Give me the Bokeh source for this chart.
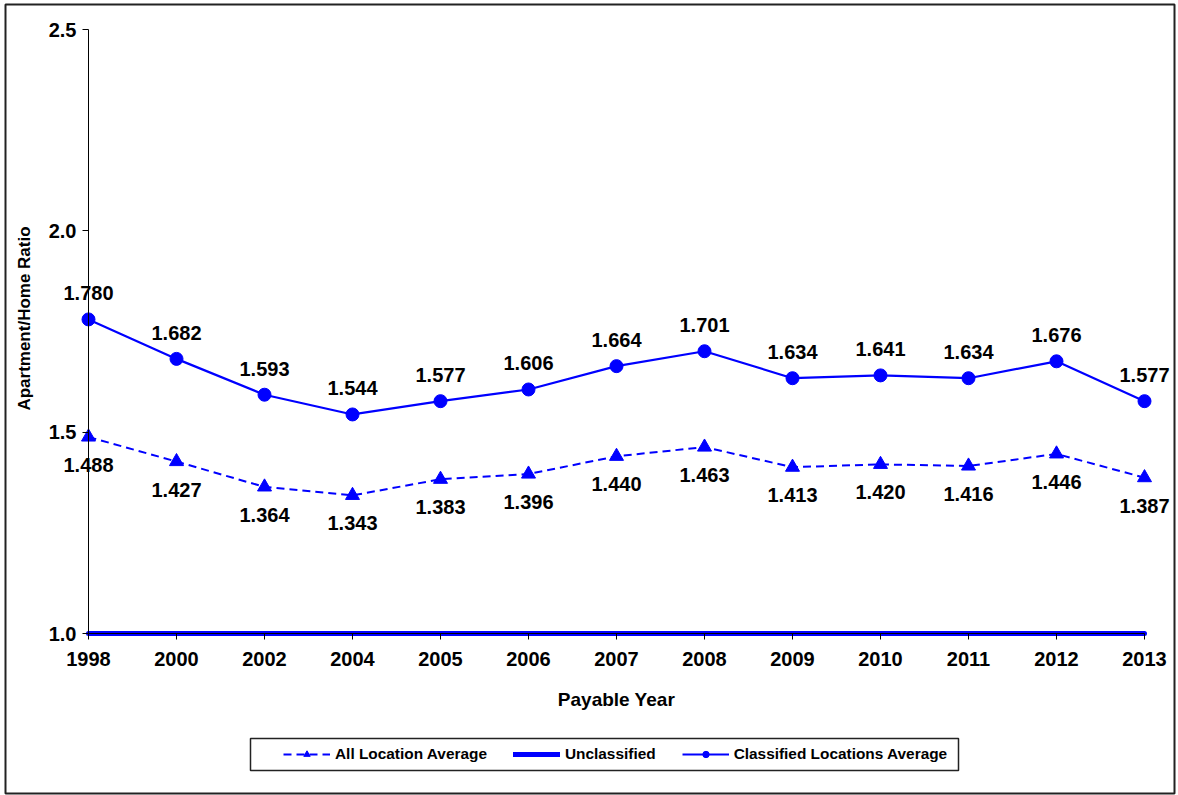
import math
from bokeh.plotting import figure
from bokeh.models import (ColumnDataSource, Legend, LegendItem, FixedTicker, Range1d,
                          LabelSet, Label, BoxAnnotation)
from bokeh.core.properties import value
from bokeh.embed import file_html
from bokeh.resources import INLINE

years = ["1998", "2000", "2002", "2004", "2005", "2006", "2007", "2008", "2009", "2010", "2011", "2012", "2013"]
all_location = [1.488, 1.427, 1.364, 1.343, 1.383, 1.396, 1.440, 1.463, 1.413, 1.420, 1.416, 1.446, 1.387]
unclassified = [1.0] * 13
classified = [1.780, 1.682, 1.593, 1.544, 1.577, 1.606, 1.664, 1.701, 1.634, 1.641, 1.634, 1.676, 1.577]
y_ticks = [1.0, 1.5, 2.0, 2.5]

FONT = "Liberation Sans"
BLUE = "#0000FF"

# ---- layout geometry (page pixels); the frame fills the whole canvas ----
W, H = 1178, 795
X_FIRST_PX, X_LAST_PX = 88, 1144       # first / last category position
Y_LO_PX, Y_HI_PX = 633, 29             # y = 1.0 and y = 2.5

n = len(years)
xs = list(range(n))
ppx = (X_LAST_PX - X_FIRST_PX) / (n - 1)
ppy = (Y_LO_PX - Y_HI_PX) / (y_ticks[-1] - y_ticks[0])


def dx(px):
    return (px - X_FIRST_PX) / ppx


def dy(py):
    return y_ticks[0] + (Y_LO_PX - py) / ppy


src = ColumnDataSource(dict(
    x=xs,
    allv=all_location,
    unc=unclassified,
    cls=classified,
    all_lbl=[f"{v:.3f}" for v in all_location],
    cls_lbl=[f"{v:.3f}" for v in classified],
))

p = figure(width=W, height=H, output_backend="svg", toolbar_location=None,
           x_range=Range1d(dx(0), dx(W)), y_range=Range1d(dy(H), dy(0)),
           min_border_left=0, min_border_right=0, min_border_top=0, min_border_bottom=0)
p.outline_line_color = None
p.xgrid.visible = False
p.ygrid.visible = False
p.background_fill_color = "white"
p.border_fill_color = "white"

# chart border
p.add_layout(BoxAnnotation(left=dx(5), right=dx(1174), top=dy(4), bottom=dy(793),
                           fill_color=None, line_color="#222", line_alpha=1.0,
                           line_width=2, level="underlay"))

# axes
p.yaxis.ticker = FixedTicker(ticks=y_ticks)
p.yaxis.major_label_overrides = {t: f"{t:.1f}" for t in y_ticks}
p.yaxis.fixed_location = 0
p.yaxis.bounds = (y_ticks[0], y_ticks[-1])
p.xaxis.ticker = FixedTicker(ticks=xs)
p.xaxis.major_label_overrides = {i: y for i, y in enumerate(years)}
p.xaxis.fixed_location = y_ticks[0]
p.xaxis.bounds = (0, n - 1)
for ax in (p.xaxis[0], p.yaxis[0]):
    ax.axis_line_color = "black"
    ax.major_tick_line_color = "black"
    ax.major_tick_in = 0
    ax.major_tick_out = 6
    ax.minor_tick_line_color = None
    ax.major_label_text_font = FONT
    ax.major_label_text_font_style = "bold"
    ax.major_label_text_font_size = "20px"
    ax.major_label_text_color = "black"
    ax.axis_label_text_font = FONT
    ax.axis_label_text_font_style = "bold"
    ax.axis_label_text_color = "black"
p.xaxis.axis_label = "Payable Year"
p.xaxis.axis_label_text_font_size = "19px"
p.xaxis.major_label_standoff = 12
p.xaxis.axis_label_standoff = 20
p.yaxis.major_label_standoff = 6

# y-axis title
p.add_layout(Label(x=dx(24), y=dy(318), text="Apartment/Home Ratio", angle=math.pi / 2,
                   text_font=FONT, text_font_style="bold", text_font_size="17px",
                   text_color="black", text_align="center", text_baseline="middle"))

# series
r_unc = p.line("x", "unc", source=src, line_color=BLUE, line_width=5, line_cap="round")
r_all_l = p.line("x", "allv", source=src, line_color=BLUE, line_width=2, line_dash="8 5")
r_all_m = p.scatter("x", "allv", source=src, marker="triangle", size=14, fill_color=BLUE, line_color=BLUE)
r_cls_l = p.line("x", "cls", source=src, line_color=BLUE, line_width=2.2)
r_cls_m = p.scatter("x", "cls", source=src, marker="circle", size=13, fill_color=BLUE, line_color=BLUE)

lbl_kw = dict(text_font=value(FONT), text_font_style="bold", text_font_size="20px",
              text_color="black", text_align="center", text_baseline="middle")
p.add_layout(LabelSet(x="x", y="cls", text="cls_lbl", source=src, y_offset=26, **lbl_kw))
p.add_layout(LabelSet(x="x", y="allv", text="all_lbl", source=src, y_offset=-28, **lbl_kw))

# legend box outline
LEG_L, LEG_R, LEG_T, LEG_B = 250, 958, 738, 770
p.add_layout(BoxAnnotation(left=dx(LEG_L), right=dx(LEG_R), top=dy(LEG_T), bottom=dy(LEG_B),
                           fill_color="white", fill_alpha=1.0, line_color="#222",
                           line_alpha=1.0, line_width=1.5, level="overlay"))

legend = Legend(items=[
    LegendItem(label="All Location Average", renderers=[r_all_l, r_all_m]),
    LegendItem(label="Unclassified", renderers=[r_unc]),
    LegendItem(label="Classified Locations Average", renderers=[r_cls_l, r_cls_m]),
], orientation="horizontal")
PAD = 8
legend.location = (284 - PAD + 7, H - (LEG_T + LEG_B) // 2 - 16 + 7)
legend.label_text_font = FONT
legend.label_text_font_style = "bold"
legend.label_text_font_size = "15.4px"
legend.label_text_color = "black"
legend.border_line_color = None
legend.background_fill_alpha = 0
legend.glyph_width = 47
legend.glyph_height = 16
legend.label_height = 16
legend.spacing = 26
legend.padding = PAD
legend.margin = 0
legend.label_standoff = 5
p.add_layout(legend, "center")

open("out.html", "w").write(file_html(p, INLINE))
